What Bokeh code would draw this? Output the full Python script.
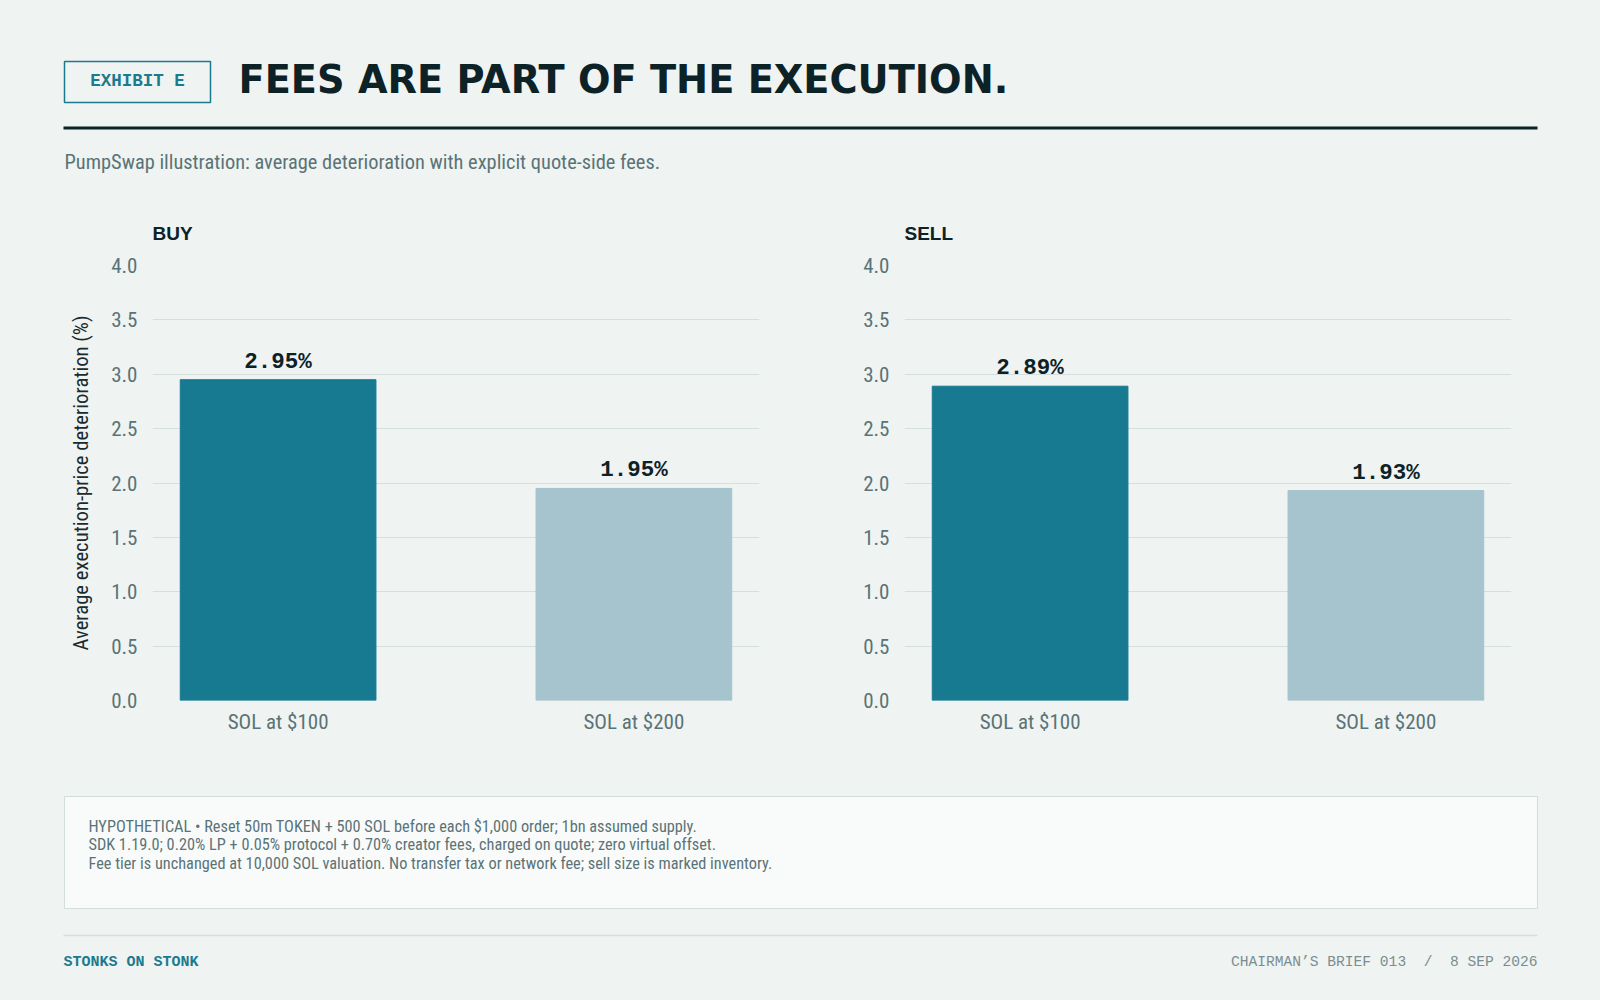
from bokeh.plotting import figure
from bokeh.layouts import column, row
from bokeh.models import Range1d, FactorRange, FixedTicker, PrintfTickFormatter, ColumnDataSource
from bokeh.core.properties import value
from bokeh.embed import file_html
from bokeh.resources import INLINE

# ---------------- data ----------------
categories = ["SOL at $100", "SOL at $200"]
buy_values = [2.95, 1.95]
sell_values = [2.89, 1.93]
bar_colors = ["#177a90", "#a5c4ce"]
y_ticks = [0.0, 0.5, 1.0, 1.5, 2.0, 2.5, 3.0, 3.5, 4.0]

exhibit = "EXHIBIT E"
title_text = "FEES ARE PART OF THE EXECUTION."
subtitle_text = "PumpSwap illustration: average deterioration with explicit quote-side fees."
y_label = "Average execution-price deterioration (%)"
note_lines = [
    "HYPOTHETICAL \u2022 Reset 50m TOKEN + 500 SOL before each $1,000 order; 1bn assumed supply.",
    "SDK 1.19.0; 0.20% LP + 0.05% protocol + 0.70% creator fees, charged on quote; zero virtual offset.",
    "Fee tier is unchanged at 10,000 SOL valuation. No transfer tax or network fee; sell size is marked inventory.",
]
footer_left = "STONKS ON STONK"
footer_right = "CHAIRMAN\u2019S BRIEF 013 \u00a0/\u00a0 8 SEP 2026"

# ---------------- style ----------------
BG = "#eff3f2"
INK = "#0d2226"
MUTED = "#5a7377"
TEAL = "#1b7b8e"
GRID = "#d6dfdf"
NARROW = "Roboto Condensed"
SANS = "Liberation Sans"
MONO = "Liberation Mono"
W = 1584


def canvas(w, h):
    f = figure(width=w, height=h, x_range=Range1d(0, w), y_range=Range1d(h, 0),
               output_backend="svg", toolbar_location=None, min_border=0)
    f.axis.visible = False
    f.grid.visible = False
    f.outline_line_color = None
    f.background_fill_color = BG
    f.border_fill_color = BG
    return f


# ---------------- header ----------------
hdr = canvas(W, 187)
hdr.quad(left=[56], right=[202], top=[53], bottom=[94], fill_color=None,
         line_color=TEAL, line_width=1.5)
hdr.text(x=[129], y=[72.5], text=[exhibit], text_font=value(MONO), text_font_style="bold",
         text_font_size="17.5px", text_color=TEAL, text_align="center", text_baseline="middle")
hdr.text(x=[230], y=[71], text=[title_text], text_font=value("DejaVu Sans"),
         text_font_style="bold", text_font_size="38.3px", text_color=INK,
         text_align="left", text_baseline="middle")
hdr.segment(x0=[55], y0=[119.5], x1=[1529], y1=[119.5], line_color=INK, line_width=3)
hdr.text(x=[56], y=[153], text=[subtitle_text], text_font=value(NARROW),
         text_font_size="20.4px", text_color=MUTED, text_align="left", text_baseline="middle")


# ---------------- charts ----------------
def chart(title, vals, left, right, show_label):
    src = ColumnDataSource(dict(cat=categories, val=vals, color=bar_colors,
                                lab=["%.2f%%" % v for v in vals]))
    p = figure(width=792, height=585, x_range=FactorRange(*categories, range_padding=-0.147),
               y_range=Range1d(0, 4.0), output_backend="svg", toolbar_location=None,
               min_border_left=left, min_border_right=right, min_border_top=70,
               min_border_bottom=80, title=title)
    p.background_fill_color = BG
    p.border_fill_color = BG
    p.outline_line_color = None
    p.title.text_font = SANS
    p.title.text_font_style = "bold"
    p.title.text_font_size = "19px"
    p.title.text_color = INK
    p.title.align = "left"
    p.title.standoff = 43
    p.vbar(x="cat", top="val", width=0.55, color="color", source=src)
    p.text(x="cat", y="val", text="lab", source=src, text_font=value(MONO),
           text_font_style="bold", text_font_size="22.5px", text_color=INK,
           text_align="center", text_baseline="middle", y_offset=-18)
    p.xgrid.visible = False
    p.ygrid.grid_line_color = GRID
    p.ygrid.grid_line_width = 1
    p.yaxis.ticker = FixedTicker(ticks=y_ticks)
    p.yaxis.formatter = PrintfTickFormatter(format="%.1f")
    for ax in (p.xaxis[0], p.yaxis[0]):
        ax.axis_line_color = None
        ax.major_tick_line_color = None
        ax.minor_tick_line_color = None
        ax.major_label_text_font = NARROW
        ax.major_label_text_font_size = "21px"
        ax.major_label_text_color = MUTED
    p.yaxis.major_label_standoff = 9
    p.xaxis.major_label_standoff = 3
    if show_label:
        p.yaxis.axis_label = y_label
        p.yaxis.axis_label_text_font = NARROW
        p.yaxis.axis_label_text_font_size = "20.7px"
        p.yaxis.axis_label_text_font_style = "normal"
        p.yaxis.axis_label_text_color = "#1a2b2e"
        p.yaxis.axis_label_standoff = 15
    return p


buy = chart("BUY", buy_values, 144, 41, True)
sell = chart("SELL", sell_values, 104, 81, False)

# ---------------- footer ----------------
ftr = canvas(W, 212)
ftr.quad(left=[56], right=[1529], top=[16], bottom=[128], fill_color="#f9fbfa",
         line_color="#d3dddd", line_width=1)
ftr.text(x=[80, 80, 80], y=[45.5, 64, 82.5], text=note_lines, text_font=value(NARROW),
         text_font_size="16.3px", text_color=MUTED, text_align="left", text_baseline="middle")
ftr.segment(x0=[55], y0=[155], x1=[1529], y1=[155], line_color="#d5dfdf", line_width=1.5)
ftr.text(x=[55], y=[181.5], text=[footer_left], text_font=value(MONO), text_font_style="bold",
         text_font_size="15px", text_color=TEAL, text_align="left", text_baseline="middle")
ftr.text(x=[1529], y=[181], text=[footer_right], text_font=value(MONO),
         text_font_size="14.6px", text_color="#7a8e91", text_align="right", text_baseline="middle")

layout = column(hdr, row(buy, sell), ftr)
html = file_html(layout, INLINE)
css = ("<style>html{background:%s !important;}"
       "html,body{margin:0 !important;padding:0 !important;}"
       "body{margin:8px !important;background:%s !important;height:auto !important;}</style>" % (BG, BG))
html = html.replace("</head>", css + "</head>", 1)
open("out.html", "w").write(html)
